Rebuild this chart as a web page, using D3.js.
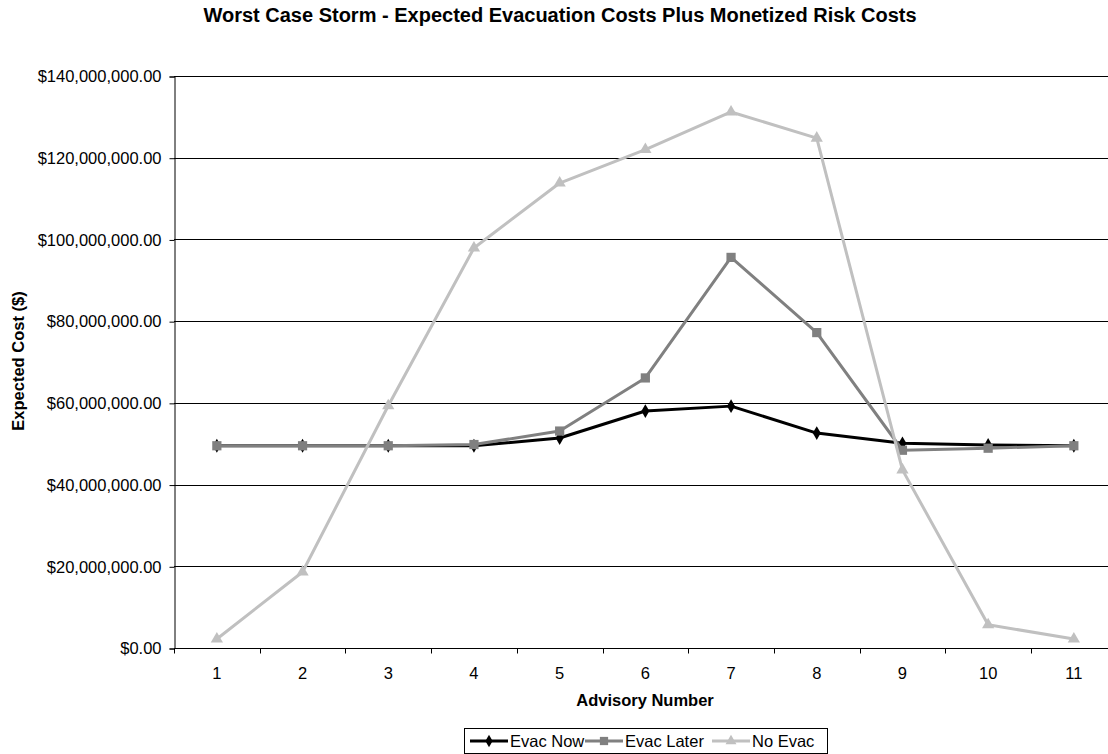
<!DOCTYPE html>
<script src="https://cdn.jsdelivr.net/npm/d3@7"></script>
<style>
    body { margin: 0; background: #fff; overflow: hidden; }
    svg { font-family: "Liberation Sans", Arial, sans-serif; display: block; }
</style>
<div id="chart"></div>
<script>
    var advisories = ["1", "2", "3", "4", "5", "6", "7", "8", "9", "10", "11"];
    var evacNow   = [49.5, 49.5, 49.5, 49.5, 51.4, 58.0, 59.2, 52.6, 50.1, 49.7, 49.5];
    var evacLater = [49.5, 49.5, 49.5, 49.8, 53.1, 66.1, 95.6, 77.2, 48.4, 48.9, 49.5];
    var noEvac    = [2.2, 18.6, 59.3, 97.9, 113.8, 122.0, 131.2, 124.8, 43.6, 5.7, 2.2];
    var yTicks = [0, 20, 40, 60, 80, 100, 120, 140];

    var series = [
        { name: "Evac Now", values: evacNow, color: "#000000", marker: d3.symbolDiamond, size: 55 },
        { name: "Evac Later", values: evacLater, color: "#808080", marker: d3.symbolSquare, size: 85 },
        { name: "No Evac", values: noEvac, color: "#c0c0c0", marker: d3.symbolTriangle, size: 65 }
    ];

    var W = 1108, H = 754,
        bandW = 85.7,
        plotL = 174, plotR = 174 + 11 * bandW, plotT = 76, plotB = 648;

    var svg = d3.select("#chart").append("svg").attr("width", W).attr("height", H);

    var x = d3.scaleBand().domain(advisories).range([plotL, plotR]),
        y = d3.scaleLinear().domain([0, 140]).range([plotB, plotT]);

    // gridlines
    svg.append("g").selectAll("line").data(yTicks.slice(1)).enter().append("line")
        .attr("x1", plotL).attr("x2", plotR)
        .attr("y1", function(d) { return Math.round(y(d)) + 0.5; })
        .attr("y2", function(d) { return Math.round(y(d)) + 0.5; })
        .attr("stroke", "#000").attr("stroke-width", 1);

    var fmt = function(d) { return "$" + d3.format(",.2f")(d * 1e6); };

    var yAxis = svg.append("g").attr("transform", "translate(" + (plotL + 0.5) + ",0.5)")
        .call(d3.axisLeft(y).tickValues(yTicks).tickFormat(fmt).tickSize(5).tickPadding(8));
    yAxis.select(".domain").attr("stroke", "#000");
    yAxis.selectAll(".tick line").attr("stroke", "#000");
    yAxis.selectAll("text").attr("font-size", 16.5).attr("fill", "#000").attr("font-family", "Liberation Sans, Arial, sans-serif");

    var xAxis = svg.append("g").attr("transform", "translate(0," + (Math.round(plotB) + 0.5) + ")");
    xAxis.append("line").attr("x1", plotL).attr("x2", plotR).attr("stroke", "#000");
    var bounds = advisories.map(function(a) { return x(a); }).concat([plotR]);
    xAxis.selectAll(".tk").data(bounds).enter().append("line")
        .attr("x1", function(d) { return Math.round(d) + 0.5; })
        .attr("x2", function(d) { return Math.round(d) + 0.5; })
        .attr("y1", 0).attr("y2", 5).attr("stroke", "#000");
    xAxis.selectAll("text").data(advisories).enter().append("text")
        .attr("x", function(d) { return x(d) + x.bandwidth() / 2; })
        .attr("y", 30).attr("text-anchor", "middle").attr("font-size", 16.5)
        .text(function(d) { return d; });

    var line = d3.line()
        .x(function(d, i) { return x(advisories[i]) + x.bandwidth() / 2; })
        .y(function(d) { return y(d); });

    series.forEach(function(s) {
        var g = svg.append("g");
        g.append("path").datum(s.values).attr("d", line)
            .attr("fill", "none").attr("stroke", s.color).attr("stroke-width", 3)
            .attr("stroke-linejoin", "round");
        g.selectAll("path.m").data(s.values).enter().append("path").attr("class", "m")
            .attr("transform", function(d, i) {
                return "translate(" + (x(advisories[i]) + x.bandwidth() / 2) + "," + y(d) + ")";
            })
            .attr("d", d3.symbol().type(s.marker).size(s.size))
            .attr("fill", s.color);
    });

    svg.append("text").attr("x", 560).attr("y", 22).attr("text-anchor", "middle")
        .attr("font-size", 20).attr("font-weight", "bold")
        .text("Worst Case Storm - Expected Evacuation Costs Plus Monetized Risk Costs");

    svg.append("text").attr("x", 645).attr("y", 706).attr("text-anchor", "middle")
        .attr("font-size", 16.5).attr("font-weight", "bold").text("Advisory Number");

    svg.append("text").attr("transform", "translate(24,361) rotate(-90)").attr("text-anchor", "middle")
        .attr("font-size", 16.5).attr("font-weight", "bold").text("Expected Cost ($)");

    // legend
    var lg = svg.append("g").attr("transform", "translate(464,728)");
    lg.append("rect").attr("x", 0.5).attr("y", 0.5).attr("height", 25).attr("width", 363)
        .attr("fill", "#fff").attr("stroke", "#000");
    var offsets = [6, 121, 248];
    series.forEach(function(s, i) {
        var e = lg.append("g").attr("transform", "translate(" + offsets[i] + ",13)");
        e.append("line").attr("x1", 0).attr("x2", 38).attr("stroke", s.color).attr("stroke-width", 3);
        e.append("path").attr("transform", "translate(19,0)")
            .attr("d", d3.symbol().type(s.marker).size(s.size * 0.8)).attr("fill", s.color);
        e.append("text").attr("x", 40).attr("y", 6).attr("font-size", 16.5).text(s.name);
    });
</script>
